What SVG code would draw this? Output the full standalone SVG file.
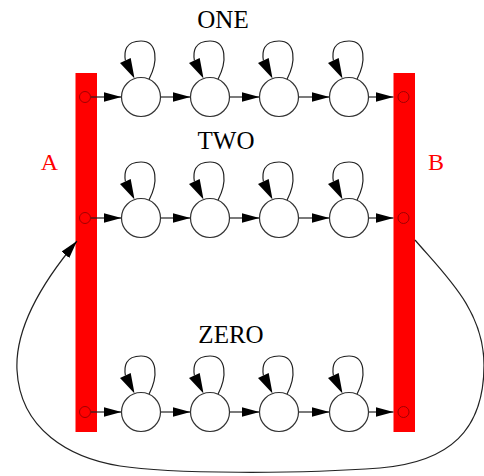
<svg xmlns="http://www.w3.org/2000/svg" xmlns:xlink="http://www.w3.org/1999/xlink" width="484" height="476" viewBox="0 0 484 476">
<style>
.bar{fill:#ff0000;stroke:none}
.port{fill:#ff0000;stroke:#a00000;stroke-width:1}
.st{fill:#fff;stroke:#333;stroke-width:1.2}
.e{fill:none;stroke:#222;stroke-width:1.2}
.ah{fill:#000;stroke:none}
.lbl{font-family:"Liberation Serif","Times New Roman",serif;font-size:25px;fill:#000;text-anchor:middle}
.side{font-family:"Liberation Serif","Times New Roman",serif;font-size:24px;fill:#ff0000;text-anchor:middle}
</style>
<defs>
<marker id="arr" markerWidth="18" markerHeight="10" refX="18" refY="5" orient="auto" markerUnits="userSpaceOnUse">
<path class="ah" d="M0,0 L18,5 L0,10 z"/>
</marker>
<g id="loop">
<path class="e" d="M8,-17.8 C17,-35 17,-56 0,-56 C-16,-56 -17,-45 -15.6,-36.5"/>
<polygon class="ah" points="-21,-34 -10.3,-39 -6.5,-18.5"/>
</g>
</defs>

<g id="A">
<rect class="bar" x="75.5" y="73" width="21.5" height="359"/>
<circle class="port" cx="85" cy="97" r="5.5"/>
<circle class="port" cx="85" cy="218" r="5.5"/>
<circle class="port" cx="85" cy="412" r="5.5"/>
<text class="side" x="49.5" y="170">A</text>
</g>
<g id="B">
<rect class="bar" x="393.5" y="73" width="21.5" height="359"/>
<circle class="port" cx="403.5" cy="97" r="5.5"/>
<circle class="port" cx="403.5" cy="218" r="5.5"/>
<circle class="port" cx="403.5" cy="412" r="5.5"/>
<text class="side" x="436" y="170">B</text>
</g>

<g id="labels">
<text class="lbl" x="223" y="28">ONE</text>
<text class="lbl" x="226" y="149">TWO</text>
<text class="lbl" x="231" y="343">ZERO</text>
</g>

<g id="connectors">
<g marker-end="url(#arr)" class="e">
<line x1="91" y1="97" x2="121.5" y2="97"/>
<line x1="160.5" y1="97" x2="190.5" y2="97"/>
<line x1="229.5" y1="97" x2="259.5" y2="97"/>
<line x1="298.5" y1="97" x2="329.5" y2="97"/>
<line x1="368.5" y1="97" x2="393.5" y2="97"/>
<line x1="91" y1="218" x2="121.5" y2="218"/>
<line x1="160.5" y1="218" x2="190.5" y2="218"/>
<line x1="229.5" y1="218" x2="259.5" y2="218"/>
<line x1="298.5" y1="218" x2="329.5" y2="218"/>
<line x1="368.5" y1="218" x2="393.5" y2="218"/>
<line x1="91" y1="412" x2="121.5" y2="412"/>
<line x1="160.5" y1="412" x2="190.5" y2="412"/>
<line x1="229.5" y1="412" x2="259.5" y2="412"/>
<line x1="298.5" y1="412" x2="329.5" y2="412"/>
<line x1="368.5" y1="412" x2="393.5" y2="412"/>
<path d="M415,240 C445,275 484,310 484,365 C484,430 450,462 380,468 C300,474 170,474 120,466 C70,458 20,430 17,370 C15,330 40,285 77,241"/>
</g>
<use xlink:href="#loop" href="#loop" x="141" y="97"/>
<use xlink:href="#loop" href="#loop" x="210" y="97"/>
<use xlink:href="#loop" href="#loop" x="279" y="97"/>
<use xlink:href="#loop" href="#loop" x="349" y="97"/>
<use xlink:href="#loop" href="#loop" x="141" y="218"/>
<use xlink:href="#loop" href="#loop" x="210" y="218"/>
<use xlink:href="#loop" href="#loop" x="279" y="218"/>
<use xlink:href="#loop" href="#loop" x="349" y="218"/>
<use xlink:href="#loop" href="#loop" x="141" y="412"/>
<use xlink:href="#loop" href="#loop" x="210" y="412"/>
<use xlink:href="#loop" href="#loop" x="279" y="412"/>
<use xlink:href="#loop" href="#loop" x="349" y="412"/>
</g>

<g id="one_1"><circle class="st" cx="141" cy="97" r="19.5"/></g>
<g id="one_2"><circle class="st" cx="210" cy="97" r="19.5"/></g>
<g id="one_3"><circle class="st" cx="279" cy="97" r="19.5"/></g>
<g id="one_4"><circle class="st" cx="349" cy="97" r="19.5"/></g>
<g id="two_1"><circle class="st" cx="141" cy="218" r="19.5"/></g>
<g id="two_2"><circle class="st" cx="210" cy="218" r="19.5"/></g>
<g id="two_3"><circle class="st" cx="279" cy="218" r="19.5"/></g>
<g id="two_4"><circle class="st" cx="349" cy="218" r="19.5"/></g>
<g id="zero_1"><circle class="st" cx="141" cy="412" r="19.5"/></g>
<g id="zero_2"><circle class="st" cx="210" cy="412" r="19.5"/></g>
<g id="zero_3"><circle class="st" cx="279" cy="412" r="19.5"/></g>
<g id="zero_4"><circle class="st" cx="349" cy="412" r="19.5"/></g>
</svg>
